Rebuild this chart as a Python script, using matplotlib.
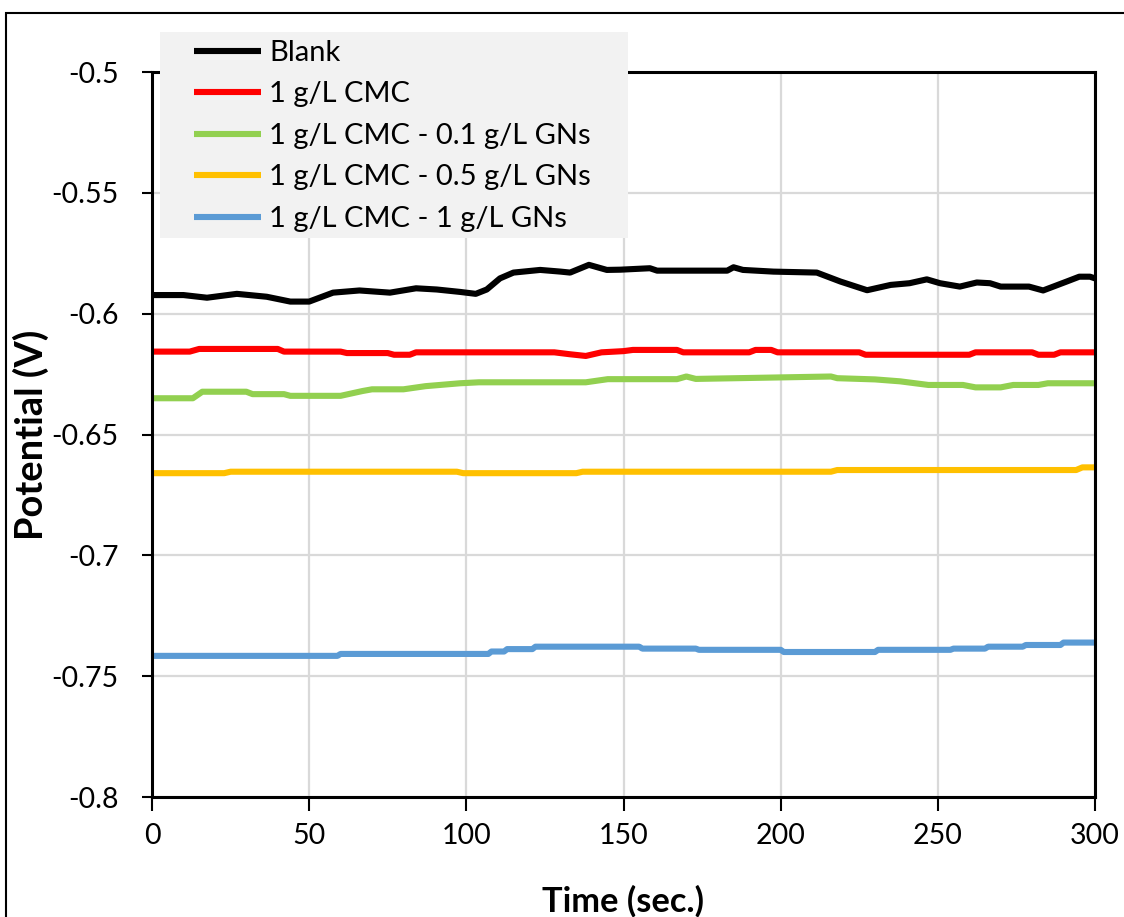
import matplotlib
matplotlib.use("Agg")
import matplotlib.pyplot as plt
from matplotlib.patches import Rectangle

plt.rcParams['font.family'] = ['Lato', 'DejaVu Sans']

# Blank
blank_t = [0, 10, 17.5, 27, 36.5, 44, 50, 57.6, 66, 75.7, 84, 90.6, 98, 103, 106.5, 110.7, 115,
           123.5, 130, 133, 139, 144.7, 149, 158.4, 160.7, 183, 185, 188, 197.7, 211.5, 219,
           227.5, 235, 241, 246.5, 250.7, 257, 262.4, 266.6, 270, 279, 283.5, 291, 295, 298.4, 300]
blank_v = [-0.5923, -0.5923, -0.5934, -0.5918, -0.5930, -0.5950, -0.5950, -0.5913, -0.5904, -0.5913,
           -0.5895, -0.5900, -0.5910, -0.5918, -0.5900, -0.5854, -0.5830, -0.5819, -0.5826, -0.5830,
           -0.5798, -0.5819, -0.5818, -0.5812, -0.5822, -0.5822, -0.5808, -0.5819, -0.5826, -0.5830,
           -0.5867, -0.5903, -0.5881, -0.5874, -0.5858, -0.5874, -0.5888, -0.5871, -0.5874, -0.5888,
           -0.5888, -0.5904, -0.5867, -0.5847, -0.5847, -0.5854]

# 1 g/L CMC
cmc_t = [0, 12, 15, 40, 42, 60, 62, 75, 77, 82, 84, 128, 133, 138, 143, 150, 153, 167, 169, 190,
         192, 197, 199, 225, 227, 260, 262, 280, 282, 287, 289, 300]
cmc_v = [-0.6157, -0.6157, -0.6146, -0.6146, -0.6157, -0.6157, -0.6163, -0.6163, -0.6170, -0.6170,
         -0.6160, -0.6160, -0.6168, -0.6175, -0.6160, -0.6155, -0.6150, -0.6150, -0.6160, -0.6160,
         -0.6150, -0.6150, -0.6160, -0.6160, -0.6170, -0.6170, -0.6160, -0.6160, -0.6170, -0.6170,
         -0.6160, -0.6160]

# 1 g/L CMC - 0.1 g/L GNs
gn01_t = [0, 13, 16, 30, 32, 42, 44, 60, 67, 70, 80, 87, 98, 104, 138, 145, 167, 170, 173, 186,
          216, 218, 230, 238, 247, 258, 262, 270, 274, 282, 285, 300]
gn01_v = [-0.6350, -0.6350, -0.6323, -0.6323, -0.6333, -0.6333, -0.6340, -0.6340, -0.6320, -0.6313,
          -0.6313, -0.6300, -0.6288, -0.6284, -0.6284, -0.6271, -0.6271, -0.6260, -0.6270, -0.6267,
          -0.6260, -0.6267, -0.6272, -0.6280, -0.6295, -0.6295, -0.6305, -0.6305, -0.6295, -0.6295,
          -0.6288, -0.6288]

# 1 g/L CMC - 0.5 g/L GNs
gn05_t = [0, 23, 25, 45, 97, 99, 135, 137, 216, 218, 294, 296, 300]
gn05_v = [-0.6660, -0.6660, -0.6654, -0.6654, -0.6654, -0.6660, -0.6660, -0.6654, -0.6654, -0.6647,
          -0.6647, -0.6636, -0.6636]

# 1 g/L CMC - 1 g/L GNs
gn1_t = [0, 59, 60, 107, 108, 112, 113, 121, 122, 155, 156, 173, 174, 200, 201, 230, 231, 254,
         255, 265, 266, 277, 278, 289, 290, 300]
gn1_v = [-0.7416, -0.7416, -0.7408, -0.7408, -0.7398, -0.7398, -0.7388, -0.7388, -0.7378, -0.7378,
         -0.7386, -0.7386, -0.7391, -0.7391, -0.7400, -0.7400, -0.7391, -0.7391, -0.7386, -0.7386,
         -0.7378, -0.7378, -0.7371, -0.7371, -0.7361, -0.7361]

labels = ['Blank', '1 g/L CMC', '1 g/L CMC - 0.1 g/L GNs', '1 g/L CMC - 0.5 g/L GNs',
          '1 g/L CMC - 1 g/L GNs']
colors = ['#000000', '#ff0000', '#92d050', '#ffc000', '#5b9bd5']
yticks = [-0.8, -0.75, -0.7, -0.65, -0.6, -0.55, -0.5]
ytick_labels = ['-0.8', '-0.75', '-0.7', '-0.65', '-0.6', '-0.55', '-0.5']

W, H = 1124, 917
fig = plt.figure(figsize=(W / 100, H / 100), dpi=100)
ax = fig.add_axes([152 / W, 1 - 797 / H, 943 / W, 725 / H])

series = [(blank_t, blank_v), (cmc_t, cmc_v), (gn01_t, gn01_v), (gn05_t, gn05_v), (gn1_t, gn1_v)]
for (t, v), lab, c in zip(series, labels, colors):
    ax.plot(t, v, color=c, lw=4.4, label=lab, solid_capstyle='butt')

ax.set_xlim(0, 300)
ax.set_ylim(-0.8, -0.5)
ax.set_xticks(range(0, 301, 50))
ax.set_yticks(yticks)
ax.set_yticklabels(ytick_labels)
ax.grid(True, color='#d9d9d9', lw=1.6)
ax.set_axisbelow(True)
for s in ax.spines.values():
    s.set_linewidth(2.2)
    s.set_color('black')
ax.tick_params(axis='y', length=7, width=1.5, pad=17, labelsize=20.5)
ax.tick_params(axis='x', length=10, width=1.5, pad=8.5, labelsize=20.5)

ylab = ax.set_ylabel('Potential (V)', fontsize=28, fontweight='bold')
xlab = ax.set_xlabel('Time (sec.)', fontsize=24, fontweight='bold')
ax.yaxis.set_label_coords(-0.109, 0.499)
ax.xaxis.set_label_coords(0.5, -0.121)

# legend: grey box with no border, lying over the top of the plot area
fig.patches.append(Rectangle((160 / W, 1 - 238 / H), 468 / W, 206 / H, transform=fig.transFigure,
                             facecolor='#f2f2f2', edgecolor='none', zorder=1))
leg = fig.legend(loc='upper left', bbox_to_anchor=(194 / W, 1 - 40 / H),
                 bbox_transform=fig.transFigure, fontsize=21, frameon=False,
                 borderaxespad=0, borderpad=0, handlelength=2.3,
                 handletextpad=0.27, labelspacing=0.53)
leg.set_zorder(5)

# stretch the bold axis titles to the reference's lengths
fig.canvas.draw()
ylab.set_fontsize(ylab.get_fontsize() * 210 / ylab.get_window_extent().height)
xlab.set_fontsize(xlab.get_fontsize() * 162 / xlab.get_window_extent().width)

fig.patches.append(Rectangle((6 / W, -0.1), 1.2, 1.1 - 13 / H, transform=fig.transFigure,
                             fill=False, edgecolor='black', lw=1.5))

fig.savefig('out.png', dpi=100)
